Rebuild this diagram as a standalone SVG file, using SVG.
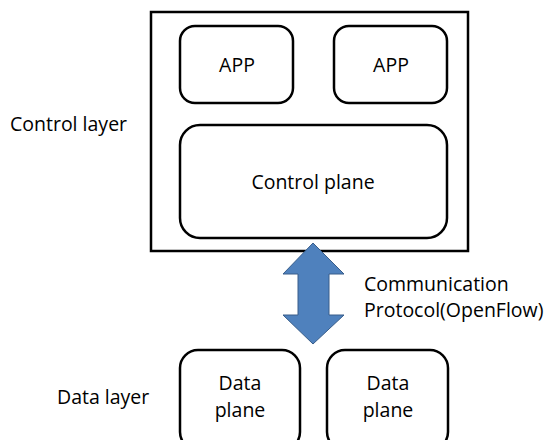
<svg xmlns="http://www.w3.org/2000/svg" width="549" height="440" viewBox="0 0 549 440">
<style>
.box{fill:#fff;stroke:#000;stroke-width:2.5}
.t{font-family:"Open Sans","Liberation Sans",sans-serif;font-size:19.5px;fill:#000}
.c{text-anchor:middle}
</style>
<rect width="549" height="440" fill="#fff"/>
<g id="control-layer-box"><rect class="box" x="151" y="12" width="317" height="239"/></g>
<g id="app1"><rect class="box" x="180" y="26" width="113" height="77" rx="15"/><text class="t c" x="237" y="72">APP</text></g>
<g id="app2"><rect class="box" x="334" y="26" width="113" height="77" rx="15"/><text class="t c" x="391" y="72">APP</text></g>
<g id="control-plane"><rect class="box" x="180" y="125" width="267" height="113" rx="20"/><text class="t c" x="313" y="189">Control plane</text></g>
<g id="data1"><rect class="box" x="180" y="350" width="120" height="100" rx="18"/><text class="t c" x="240" y="390">Data</text><text class="t c" x="240" y="417">plane</text></g>
<g id="data2"><rect class="box" x="327" y="350" width="121" height="100" rx="18"/><text class="t c" x="388" y="390">Data</text><text class="t c" x="388" y="417">plane</text></g>
<g id="labels">
<text class="t" x="10" y="131">Control layer</text>
<text class="t" x="57" y="404">Data layer</text>
<text class="t" x="364" y="291">Communication</text>
<text class="t" x="364" y="317">Protocol(OpenFlow)</text>
</g>
<g id="connectors">
<path d="M313,243 L344,274 L329,274 L329,315 L344,315 L313,344 L283,315 L298,315 L298,274 L283,274 Z" fill="#4F81BD" stroke="#385D8A" stroke-width="1"/>
</g>
</svg>
